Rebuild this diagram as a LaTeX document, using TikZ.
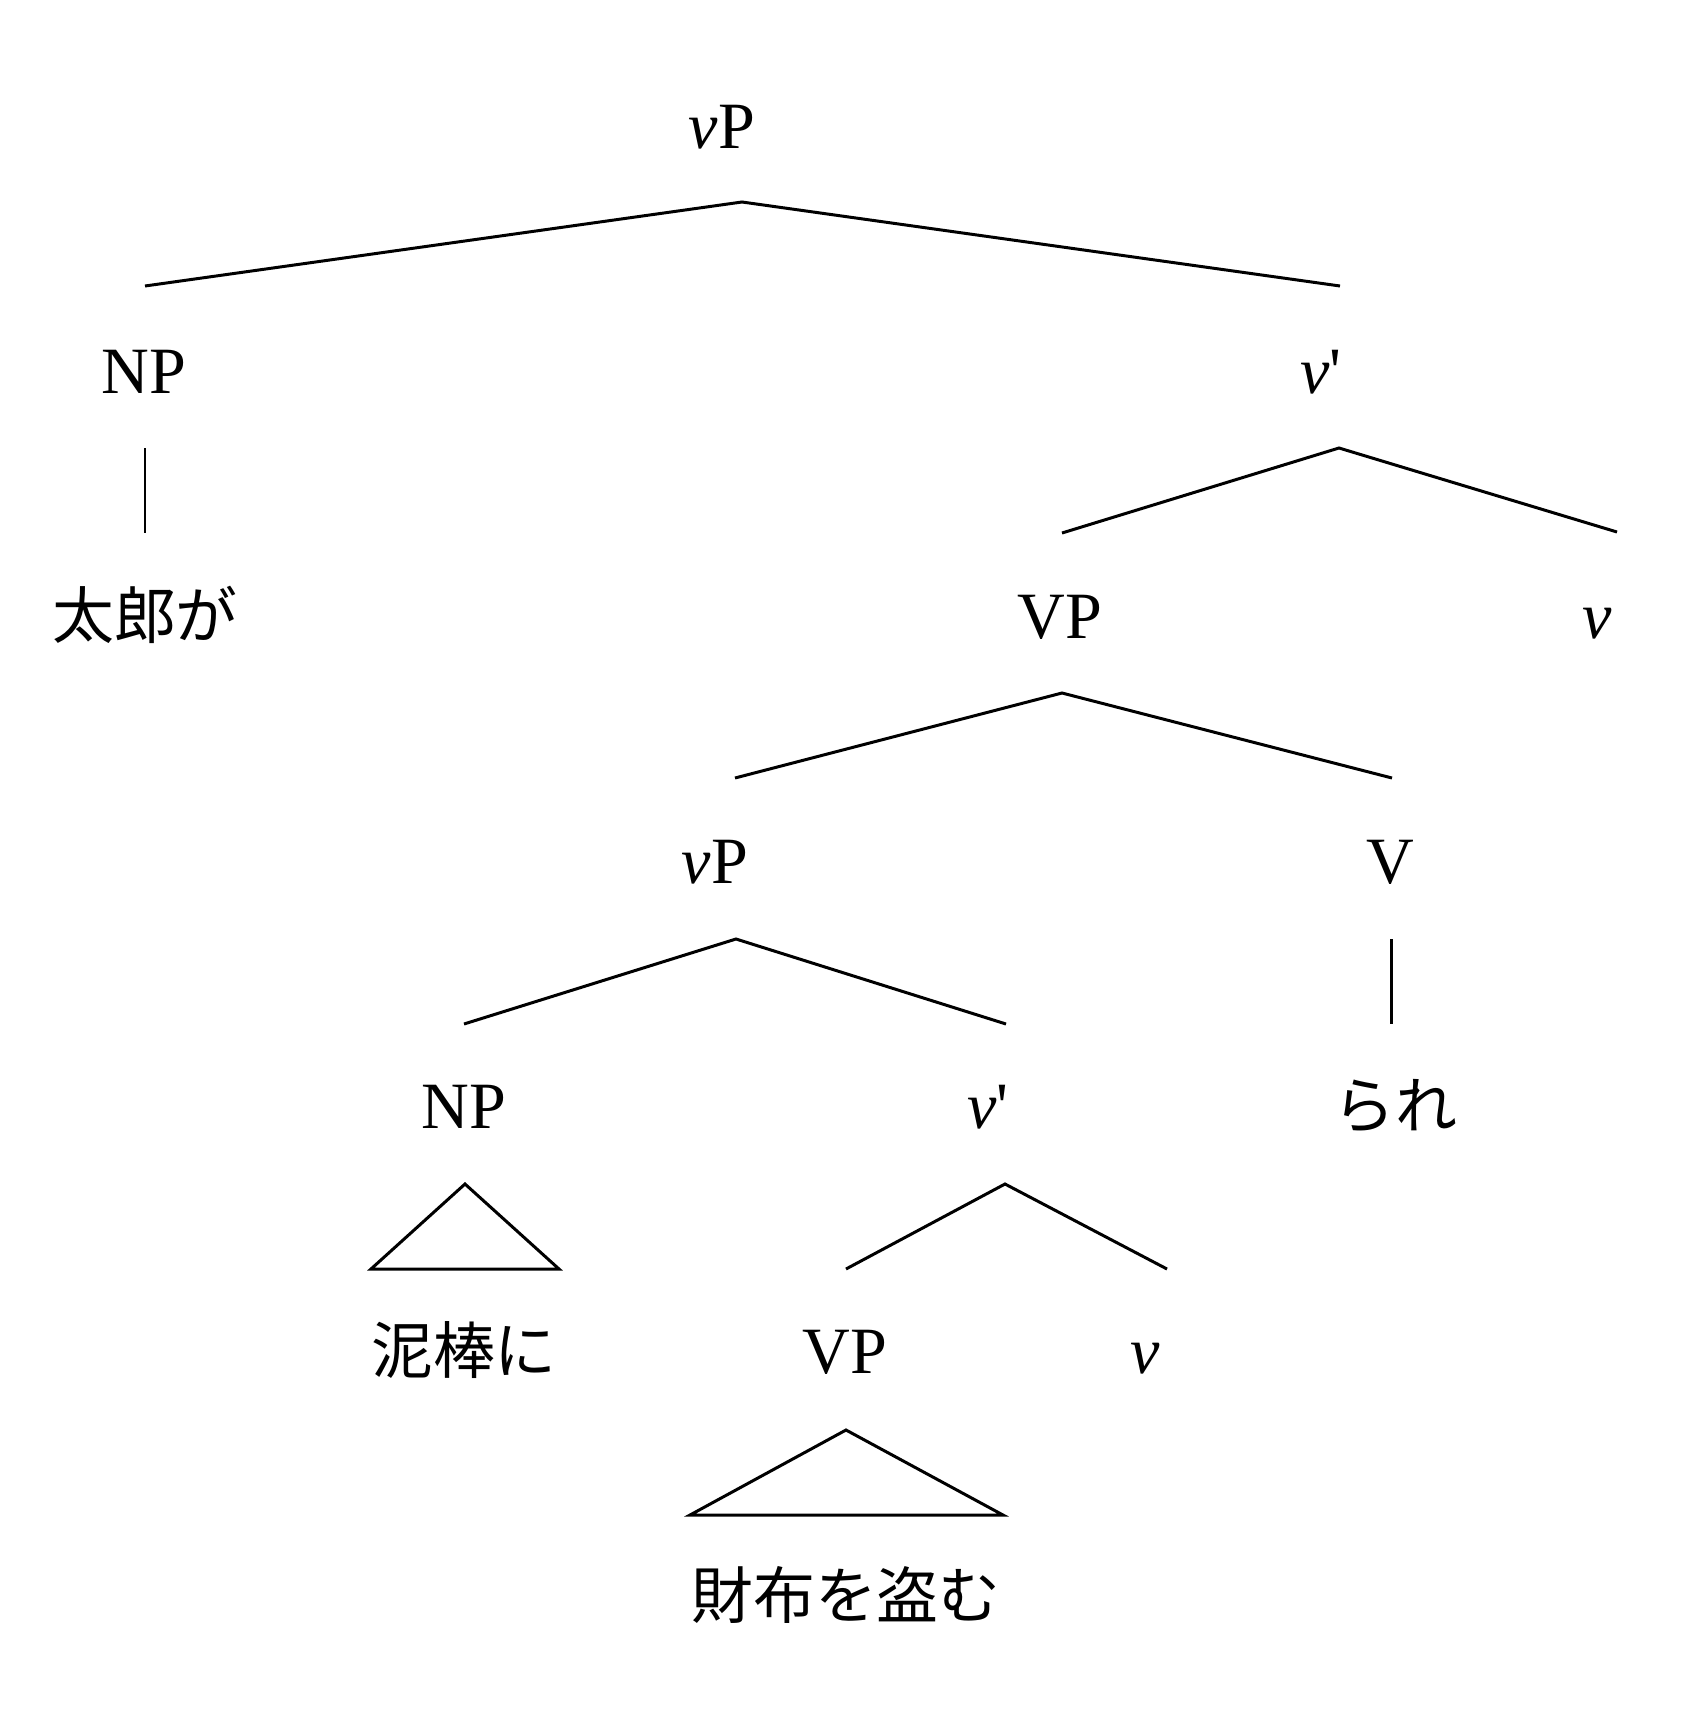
\documentclass[tikz,border=0pt]{standalone}
\usepackage{fontspec}
\setmainfont{Liberation Serif}[Ligatures=TeXOff]
\newfontfamily\jafont{Noto Sans CJK JP}
\usetikzlibrary{calc}
\begin{document}
\begin{tikzpicture}[x=0.01cm,y=-0.01cm,
  lbl/.style={anchor=base,inner sep=0pt,font=\fontsize{18.8pt}{22pt}\selectfont},
  ja/.style={anchor=base,inner sep=0pt,font=\fontsize{17.6pt}{22pt}\selectfont\jafont},
  edge/.style={line width=0.85pt,line join=miter}]
\useasboundingbox (0,0) rectangle (1706,1712);
% row baselines: 148, 393, 638, 883, 1128, 1373, 1618
\node[lbl] (vPa) at (722,148) {\textit{v}P};
\node[lbl] (NPa) at (144,393) {NP};
\node[lbl] (vba) at (1321,393) {\textit{v}'};
\node[ja]  (taro) at (145,638) {太郎が};
\node[lbl] (VPa) at (1060,638) {VP};
\node[lbl] (va) at (1597,638) {\textit{v}};
\node[lbl] (vPb) at (715,883) {\textit{v}P};
\node[lbl] (Va) at (1390,883) {V};
\node[lbl] (NPb) at (464,1128) {NP};
\node[lbl] (vbb) at (988,1128) {\textit{v}'};
\node[ja]  (rare) at (1395,1128) {られ};
\node[ja]  (dorobo) at (464,1373) {泥棒に};
\node[lbl] (VPb) at (845,1373) {VP};
\node[lbl] (vb) at (1145,1373) {\textit{v}};
\node[ja]  (saifu) at (846,1618) {財布を盗む};
% edges
\draw[edge] ($(NPa.base)+(1,-107)$) -- ($(vPa.base)+(20,54)$) -- ($(vba.base)+(19,-107)$);
\draw[edge] ($(NPa.base)+(1,55)$) -- ($(taro.base)+(0,-105)$);
\draw[edge] ($(VPa.base)+(2,-105)$) -- ($(vba.base)+(18,55)$) -- ($(va.base)+(20,-106)$);
\draw[edge] ($(vPb.base)+(20,-105)$) -- ($(VPa.base)+(2,55)$) -- ($(Va.base)+(2,-105)$);
\draw[edge] ($(NPb.base)+(0,-104)$) -- ($(vPb.base)+(21,56)$) -- ($(vbb.base)+(18,-104)$);
\draw[edge] ($(Va.base)+(1,56)$) -- ($(rare.base)+(-4,-104)$);
\draw[edge] ($(VPb.base)+(1,-104)$) -- ($(vbb.base)+(17,56)$) -- ($(vb.base)+(22,-104)$);
\draw[edge] ($(NPb.base)+(1,56)$) -- ($(dorobo.base)+(-93,-104)$) -- ($(dorobo.base)+(95,-104)$) -- cycle;
\draw[edge] ($(VPb.base)+(1,57)$) -- ($(saifu.base)+(-156,-103)$) -- ($(saifu.base)+(157,-103)$) -- cycle;
\end{tikzpicture}
\end{document}
